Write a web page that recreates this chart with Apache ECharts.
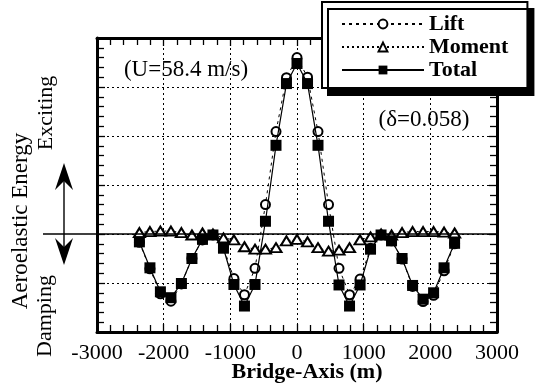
<!DOCTYPE html>
<html>
<head>
<meta charset="utf-8">
<script src="https://cdn.jsdelivr.net/npm/echarts@6/dist/echarts.min.js"></script>
<style>
  html, body { margin: 0; padding: 0; background: #fff; }
  #chart { width: 537px; height: 387px; }
</style>
</head>
<body>
<div id="chart"></div>
<script>
// Stations along the bridge axis (m)
const bridgeX = [-2364, -2206, -2049, -1891, -1734, -1576, -1418, -1261, -1103, -946, -788, -630, -473, -315, -158, 0,
                 158, 315, 473, 630, 788, 946, 1103, 1261, 1418, 1576, 1734, 1891, 2049, 2206, 2364];

// Aeroelastic energy contributions at each station
const liftEnergy = [-0.17, -0.71, -1.22, -1.37, -1.02, -0.50, -0.12, -0.02, -0.27, -0.91, -1.24, -0.70, 0.60, 2.09, 3.19, 3.60,
                    3.20, 2.09, 0.60, -0.70, -1.24, -0.92, -0.29, -0.02, -0.14, -0.51, -1.07, -1.38, -1.25, -0.75, -0.20];
const momentEnergy = [0.03, 0.05, 0.06, 0.06, 0.03, -0.02, 0.02, 0.00, -0.08, -0.12, -0.26, -0.31, -0.31, -0.28, -0.14, -0.11,
                      -0.16, -0.28, -0.35, -0.33, -0.28, -0.12, -0.06, 0.00, -0.02, 0.03, 0.05, 0.05, 0.05, 0.04, 0.02];
const totalEnergy = [-0.16, -0.69, -1.18, -1.30, -1.01, -0.50, -0.11, -0.02, -0.29, -1.03, -1.47, -1.03, 0.26, 1.81, 3.07, 3.48,
                     3.07, 1.81, 0.26, -1.04, -1.47, -1.04, -0.31, -0.02, -0.14, -0.50, -1.05, -1.33, -1.20, -0.69, -0.19];

const seriesNames = ['Lift', 'Moment', 'Total'];
const xTicks = [-3000, -2000, -1000, 0, 1000, 2000, 3000];

const FONT = '"Liberation Serif", "Times New Roman", serif';
const pairs = ys => bridgeX.map((x, i) => [x, ys[i]]);

const chart = echarts.init(document.getElementById('chart'), null, { renderer: 'canvas' });

// Heavy frame with inward ticks, shared by all four axes
function frame(extra) {
  return Object.assign({
    axisLine: { show: true, onZero: false, lineStyle: { color: '#000', width: 3 } },
    axisTick: { show: true, inside: true, length: 8, lineStyle: { color: '#000', width: 1.3 } },
    minorTick: { show: true, splitNumber: 5, length: 7, lineStyle: { color: '#000', width: 1.3 } }
  }, extra);
}

const option = {
  backgroundColor: '#fff',
  animation: false,
  grid: { left: 97, right: 40, top: 38, bottom: 55, containLabel: false, outerBoundsMode: 'none' },
  xAxis: [
    frame({
      type: 'value', position: 'bottom', min: xTicks[0], max: xTicks[xTicks.length - 1], interval: 1000,
      axisLabel: { color: '#000', fontFamily: FONT, fontSize: 22, margin: 10, formatter: v => String(v) },
      splitLine: { show: true, lineStyle: { color: '#000', width: 1, type: [2, 3] } },
      name: 'Bridge-Axis (m)', nameLocation: 'middle', nameGap: 29, nameMoveOverlap: false,
      nameTextStyle: { color: '#000', fontFamily: FONT, fontSize: 22, fontWeight: 'bold', padding: [0, 0, 0, 20] }
    }),
    frame({
      type: 'value', position: 'top', min: xTicks[0], max: xTicks[xTicks.length - 1], interval: 1000,
      axisLabel: { show: false }, splitLine: { show: false }
    })
  ],
  yAxis: [
    frame({
      type: 'value', position: 'left', min: -2, max: 4, interval: 1,
      axisLabel: { show: false },
      splitLine: { show: true, lineStyle: { color: '#000', width: 1, type: [2, 3] } }
    }),
    frame({
      type: 'value', position: 'right', min: -2, max: 4, interval: 1,
      axisLabel: { show: false }, splitLine: { show: false }
    })
  ],
  legend: {
    data: seriesNames,
    orient: 'vertical',
    left: 322, top: 2,
    padding: [11, 19, 7, 19],
    itemWidth: 82, itemHeight: 11, itemGap: 1,
    backgroundColor: '#fff',
    borderColor: '#000', borderWidth: 2,
    shadowColor: '#000', shadowBlur: 0, shadowOffsetX: 6, shadowOffsetY: 7,
    textStyle: { color: '#000', fontFamily: FONT, fontSize: 22, fontWeight: 'bold', lineHeight: 22 }
  },
  series: [
    {
      name: seriesNames[0], type: 'line', data: pairs(liftEnergy),
      symbol: 'emptyCircle', symbolSize: 9,
      lineStyle: { color: '#000', width: 1, type: [3, 4] },
      itemStyle: { color: '#000', borderColor: '#000', borderWidth: 1.2 },
      z: 3
    },
    {
      name: seriesNames[1], type: 'line', data: pairs(momentEnergy),
      symbol: 'emptyTriangle', symbolSize: [11, 9],
      lineStyle: { color: '#000', width: 1, type: [2, 3] },
      itemStyle: { color: '#000', borderColor: '#000', borderWidth: 1.2 },
      z: 4
    },
    {
      name: seriesNames[2], type: 'line', data: pairs(totalEnergy),
      symbol: 'rect', symbolSize: 11,
      lineStyle: { color: '#000', width: 1.2 },
      itemStyle: { color: '#000', borderColor: '#000', borderWidth: 0 },
      z: 5
    }
  ]
};

chart.setOption(option);

// Zero-energy reference line, arrows and annotations placed from the axis scales
const zeroY = chart.convertToPixel({ yAxisIndex: 0 }, 0);
const rightX = chart.convertToPixel({ xAxisIndex: 0 }, xTicks[xTicks.length - 1]);
const arrowX = 64;
const headW = 9, headL = 27, notch = 9;
const topTip = zeroY - 71, botTip = zeroY + 31;

chart.setOption({
  graphic: [
    { type: 'line', z: 10, shape: { x1: 43, y1: zeroY, x2: rightX, y2: zeroY },
      style: { stroke: '#000', lineWidth: 1.6 } },
    { type: 'line', z: 10, shape: { x1: arrowX, y1: topTip + 10, x2: arrowX, y2: botTip - 10 },
      style: { stroke: '#000', lineWidth: 1.4 } },
    { type: 'polygon', z: 10,
      shape: { points: [[arrowX, topTip], [arrowX + headW, topTip + headL], [arrowX, topTip + headL - notch], [arrowX - headW, topTip + headL]] },
      style: { fill: '#000' } },
    { type: 'polygon', z: 10,
      shape: { points: [[arrowX, botTip], [arrowX + headW, botTip - headL], [arrowX, botTip - headL + notch], [arrowX - headW, botTip - headL]] },
      style: { fill: '#000' } },
    { type: 'text', z: 10, x: 21, y: 221, rotation: Math.PI / 2,
      style: { text: 'Aeroelastic Energy', fill: '#000', font: '23px ' + FONT, align: 'center', verticalAlign: 'middle' } },
    { type: 'text', z: 10, x: 46, y: 113, rotation: Math.PI / 2,
      style: { text: 'Exciting', fill: '#000', font: '22px ' + FONT, align: 'center', verticalAlign: 'middle' } },
    { type: 'text', z: 10, x: 45, y: 316, rotation: Math.PI / 2,
      style: { text: 'Damping', fill: '#000', font: '22px ' + FONT, align: 'center', verticalAlign: 'middle' } },
    { type: 'text', z: 10, x: 186, y: 70,
      style: { text: '(U=58.4 m/s)', fill: '#000', font: '23px ' + FONT, align: 'center', verticalAlign: 'middle' } },
    { type: 'text', z: 10, x: 424, y: 120,
      style: { text: '(δ=0.058)', fill: '#000', font: '23px ' + FONT, align: 'center', verticalAlign: 'middle' } }
  ]
});
</script>
</body>
</html>
